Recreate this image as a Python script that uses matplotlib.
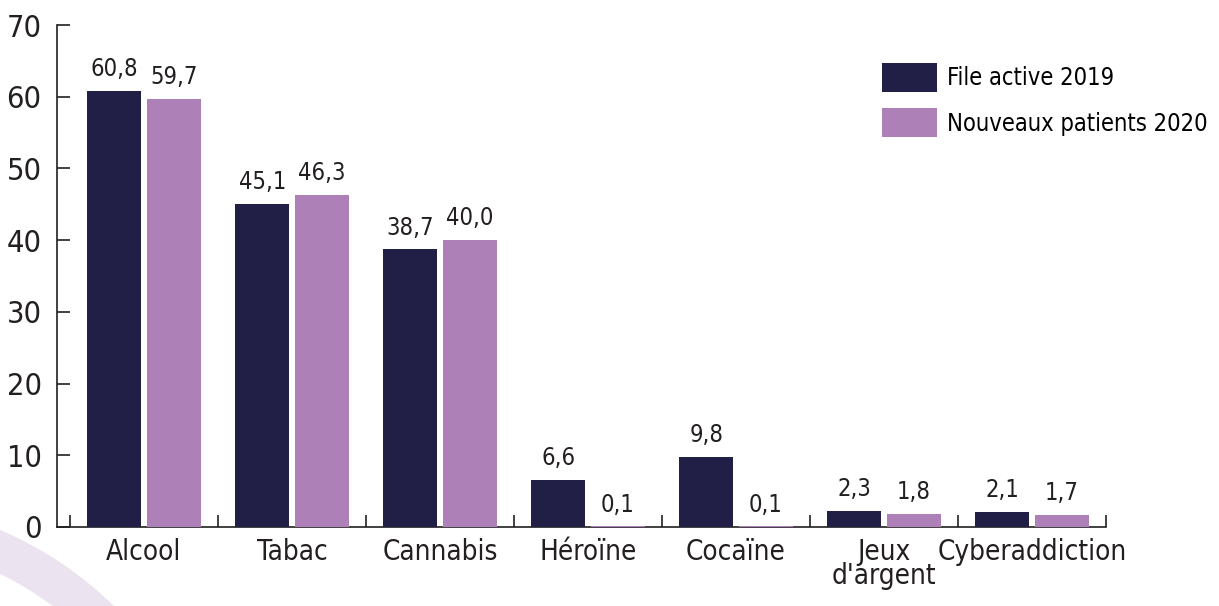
import os
import numpy as np
import matplotlib
matplotlib.use('Agg')
import matplotlib.pyplot as plt
from matplotlib import font_manager
from matplotlib.font_manager import FontProperties
from matplotlib.patches import Wedge

categories = ['Alcool', 'Tabac', 'Cannabis', 'Héroïne', 'Cocaïne', "Jeux\nd'argent", 'Cyberaddiction']
file_active_2019 = [60.8, 45.1, 38.7, 6.6, 9.8, 2.3, 2.1]
nouveaux_2020 = [59.7, 46.3, 40.0, 0.1, 0.1, 1.8, 1.7]
series_names = ['File active 2019', 'Nouveaux patients 2020']
yticks = [0, 10, 20, 30, 40, 50, 60, 70]

dark = '#221f47'
pink = '#ad81b8'
ink = '#231f20'

# police étroite (type DIN condensed) : DejaVu Sans Condensed à défaut d'autre
files = {os.path.basename(f.fname): f.fname for f in font_manager.fontManager.ttflist}
fp = FontProperties(family='DejaVu Sans', stretch='condensed')
if 'DejaVuSansCondensed.ttf' in files:
    fp = FontProperties(fname=files['DejaVuSansCondensed.ttf'])
s_ytick, s_xtick, s_val, s_leg = 22, 20, 17, 17

fig = plt.figure(figsize=(12.19, 6.06), dpi=100)
# arc décoratif en bas à gauche
arc = Wedge((-1.46, -2.66), 3.72, 0, 360, width=0.40, transform=fig.dpi_scale_trans,
            facecolor='#ebe3ef', edgecolor='none', zorder=0)
fig.patches.append(arc)

ax = fig.add_axes([57/1219, 1-527/606, (1106-57)/1219, (527-25)/606])
ax.patch.set_alpha(0)

x = np.arange(len(categories))
w = 0.365
off = 0.2
b1 = ax.bar(x - off, file_active_2019, w, color=dark, label=series_names[0], zorder=3)
b2 = ax.bar(x + off, nouveaux_2020, w, color=pink, label=series_names[1], zorder=3)

for bars, vals in ((b1, file_active_2019), (b2, nouveaux_2020)):
    for r, v in zip(bars, vals):
        ax.annotate(f'{v:.1f}'.replace('.', ','), (r.get_x() + r.get_width()/2, v),
                    xytext=(0, 7), textcoords='offset points', ha='center', va='bottom',
                    fontproperties=fp, fontsize=s_val, color=ink)

ax.set_xlim(-0.5 - 13/148, 6.5)
ax.set_ylim(0, 70)
ax.set_yticks(yticks)
ax.set_xticks(x)
ax.set_xticklabels(categories, linespacing=0.8)
ax.set_xticks(np.arange(-0.5, 7, 1), minor=True)

for s in ['top', 'right']:
    ax.spines[s].set_visible(False)
for s in ['left', 'bottom']:
    ax.spines[s].set_color(ink)
    ax.spines[s].set_linewidth(1.2)

ax.tick_params(axis='y', direction='in', length=9, width=1.2, color=ink, labelcolor=ink, pad=11)
ax.tick_params(axis='x', which='major', length=0, labelcolor=ink, pad=8)
ax.tick_params(axis='x', which='minor', direction='in', length=9, width=1.2, color=ink)
for lbl in ax.get_xticklabels():
    lbl.set_fontproperties(fp)
    lbl.set_fontsize(s_xtick)
for lbl in ax.get_yticklabels():
    lbl.set_fontproperties(fp)
    lbl.set_fontsize(s_ytick)

leg_fp = fp.copy()
leg_fp.set_size(s_leg)
ax.legend(loc='upper left', bbox_to_anchor=(882/1219, 1-63/606), bbox_transform=fig.transFigure,
          frameon=False, prop=leg_fp, handlelength=2.33, handleheight=1.52,
          handletextpad=0.42, labelspacing=0.68, borderpad=0, borderaxespad=0)

fig.savefig('out.png', dpi=100)
